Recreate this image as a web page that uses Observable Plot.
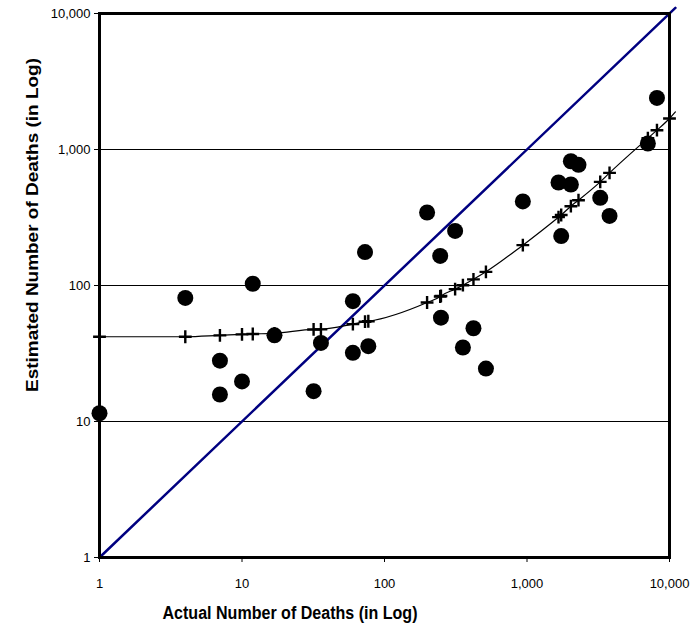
<!DOCTYPE html>
<html>
<head>
<meta charset="utf-8">
<script src="https://cdn.jsdelivr.net/npm/d3@7"></script>
<script src="https://cdn.jsdelivr.net/npm/@observablehq/plot@0.6"></script>
<style>
  html, body { margin: 0; padding: 0; background: #fff; }
  #chart { width: 695px; height: 628px; }
  svg { font-family: "Liberation Sans", Arial, sans-serif; }
</style>
</head>
<body>
<div id="chart"></div>
<script>
// Observed: actual vs estimated deaths
const actual = [1, 4, 11.9, 7, 7, 10, 16.9, 31.8, 35.8, 60, 60, 77, 73, 199, 313, 246, 249, 421, 355, 515, 935, 1664, 2032, 2298, 2032, 1738, 3265, 3795, 7050, 8166];
const estimated = [11.5, 81, 103, 28, 15.8, 19.7, 43, 16.7, 37.8, 76.7, 32, 35.8, 176, 344, 252, 165, 58, 48.5, 35, 24.5, 415, 572, 820, 771, 553, 231, 441, 325, 1107, 2395];

// Fitted (estimated) curve values with markers
const fitX = [1, 4, 7, 10, 11.9, 16.9, 31.8, 35.8, 60, 73, 77, 199, 246, 249, 313, 355, 421, 515, 935, 1664, 1738, 2032, 2298, 3265, 3795, 7050, 8166, 10000];
const fitY = [42, 42, 43, 43.7, 44, 44.5, 47.5, 47.6, 52, 54.2, 54.6, 75, 83, 83.8, 94, 100.5, 111, 126, 198, 318, 330, 383, 424, 578, 673, 1210, 1387, 1690];
// curve continues slightly past the last marker
const fitLineEndX = 11000;
const fitLineEndY = 1890;

// Equality line
const diagX = [1, 11000];
const diagY = [1, 11000];

const ticks = [1, 10, 100, 1000, 10000];
const gridValues = [10, 100, 1000];

const points = actual.map((x, i) => ({x, y: estimated[i]}));
const fitted = fitX.map((x, i) => ({x, y: fitY[i]}));
const fittedLine = fitted.concat([{x: fitLineEndX, y: fitLineEndY}]);
const diag = diagX.map((x, i) => ({x, y: diagY[i]}));

const fmt = d3.format(",");

const chart = Plot.plot({
  width: 695,
  height: 628,
  marginLeft: 99,
  marginRight: 26,
  marginTop: 13,
  marginBottom: 71,
  style: {fontFamily: "Liberation Sans, Arial, sans-serif", fontSize: "13px", color: "#000", background: "#fff"},
  x: {type: "log", domain: [1, 10000], ticks: ticks, tickFormat: fmt, label: null, tickSize: 5, tickPadding: 16},
  y: {type: "log", domain: [1, 10000], ticks: ticks, tickFormat: fmt, label: null, tickSize: 5, tickPadding: 4},
  marks: [
    Plot.ruleY(gridValues, {stroke: "#000", strokeWidth: 1}),
    Plot.line(diag, {x: "x", y: "y", stroke: "#000080", strokeWidth: 2.5, clip: false}),
    Plot.line(fittedLine, {x: "x", y: "y", stroke: "#000", strokeWidth: 1.2, curve: "monotone-x"}),
    Plot.dot(fitted, {x: "x", y: "y", symbol: "plus", r: 4.2, stroke: "#000", strokeWidth: 2.4}),
    Plot.dot(points, {x: "x", y: "y", r: 8, fill: "#000", stroke: "none"}),
    Plot.frame({stroke: "#000", strokeWidth: 3})
  ]
});

document.getElementById("chart").appendChild(chart);

const svg = d3.select(chart);
svg.append("text")
  .attr("x", 290).attr("y", 619)
  .attr("text-anchor", "middle")
  .attr("font-weight", "bold")
  .attr("font-size", 18)
  .attr("textLength", 255)
  .attr("lengthAdjust", "spacingAndGlyphs")
  .attr("fill", "#000")
  .text("Actual Number of Deaths (in Log)");
svg.append("text")
  .attr("transform", "translate(38,225) rotate(-90)")
  .attr("text-anchor", "middle")
  .attr("font-weight", "bold")
  .attr("font-size", 17)
  .attr("textLength", 334)
  .attr("lengthAdjust", "spacingAndGlyphs")
  .attr("fill", "#000")
  .text("Estimated Number of Deaths (in Log)");
</script>
</body>
</html>
